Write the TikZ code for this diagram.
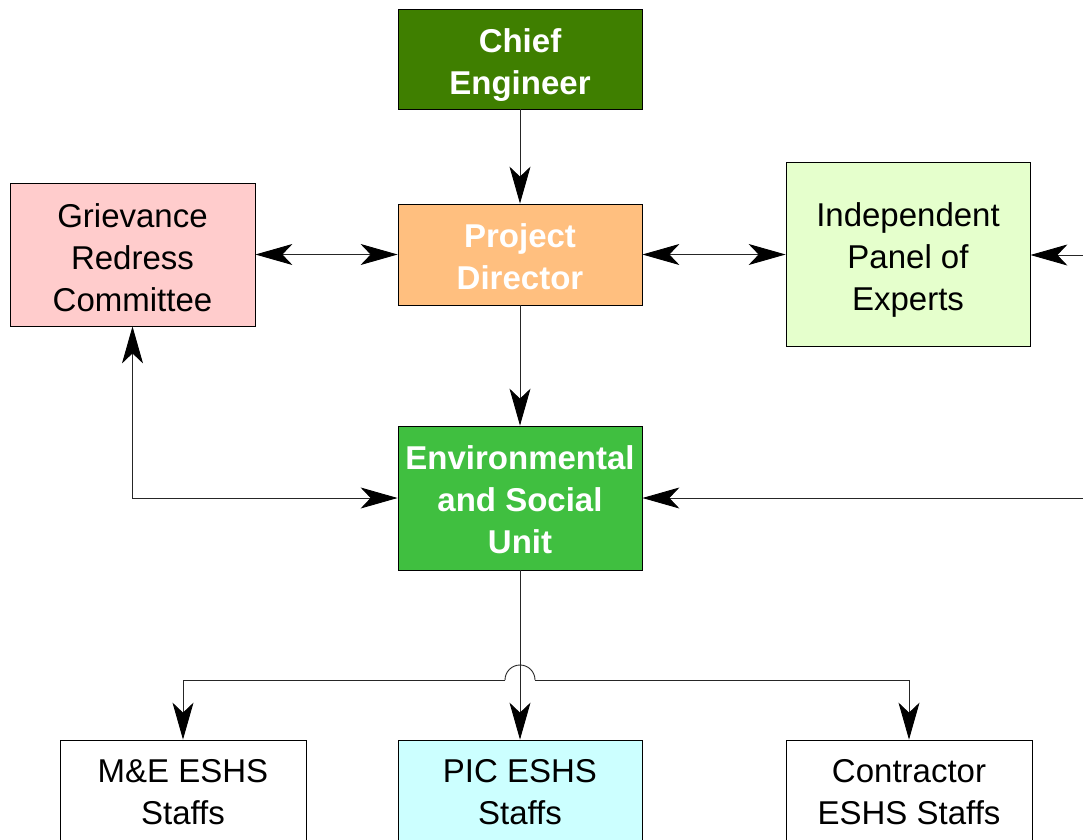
\documentclass[tikz,border=0pt]{standalone}
\usepackage{fontspec}
\setmainfont{Liberation Sans}
\usetikzlibrary{arrows.meta}
\definecolor{chiefc}{RGB}{63,127,0}
\definecolor{pdc}{RGB}{255,191,127}
\definecolor{grcc}{RGB}{255,204,204}
\definecolor{ipec}{RGB}{229,255,204}
\definecolor{esuc}{RGB}{64,191,64}
\definecolor{picc}{RGB}{204,255,255}
\newcommand{\lift}[1]{\rule{0pt}{#1pt}}
\tikzset{
  box/.style={draw=black, line width=0.8pt, align=center, inner sep=0pt,
    font=\fontsize{33}{42}\selectfont, text=black},
  boldbox/.style={box, text=white, font=\fontsize{33}{42}\selectfont\bfseries},
  conn/.style={draw=black!85, line width=0.9pt},
  tip/.style={},
  arr/.style={conn, -{Stealth[length=37pt, width=21pt, inset=10pt, fill=black, color=black]}},
  darr/.style={conn, {Stealth[length=37pt, width=21pt, inset=10pt, fill=black, color=black]}-{Stealth[length=37pt, width=21pt, inset=10pt, fill=black, color=black]}}
}
\begin{document}
\begin{tikzpicture}[x=1pt, y=1pt]
\useasboundingbox (0,0) rectangle (1083,-839);
\clip (0,0) rectangle (1083,-839);
\fill[white] (0,0) rectangle (1083,-839);

\node[boldbox, fill=chiefc, minimum width=244pt, minimum height=100pt] (chief) at (520,-59) {\lift{36}Chief\\Engineer};
\node[boldbox, fill=pdc, minimum width=244pt, minimum height=101pt] (pd) at (520,-254.5) {\lift{28}Project\\Director};
\node[box, fill=grcc, minimum width=245pt, minimum height=143pt] (grc) at (132.5,-254.5) {\lift{30}Grievance\\Redress\\Committee};
\node[box, fill=ipec, minimum width=244pt, minimum height=184pt] (ipe) at (908,-254) {\lift{36}Independent\\Panel of\\Experts};
\node[boldbox, fill=esuc, minimum width=244pt, minimum height=144pt] (esu) at (520,-498) {\lift{28}Environmental\\and Social\\Unit};
\node[box, fill=white, minimum width=246pt, minimum height=105pt] (me) at (183,-792.5) {M\&E ESHS\\Staffs};
\node[box, fill=picc, minimum width=244pt, minimum height=105pt] (pic) at (520,-792.5) {PIC ESHS\\Staffs};
\node[box, fill=white, minimum width=246pt, minimum height=105pt] (con) at (909,-792.5) {Contractor\\ESHS Staffs};

\coordinate (rtop) at (1090,-255);
\coordinate (rmid) at (1090,-498);
\coordinate (jl) at (183,-680);
\coordinate (jr) at (909,-680);
\coordinate (hl) at (505,-680);
\coordinate (hr) at (535,-680);

\draw[arr] (chief.south) -- (pd.north);
\draw[darr] (grc.east |- pd.west) -- (pd.west);
\draw[darr] (pd.east) -- (ipe.west |- pd.east);
\draw[arr] (rtop) -- (ipe.east |- rtop);
\draw[arr] (pd.south) -- (esu.north);
\draw[darr] (grc.south) |- (esu.west);
\draw[arr] (rmid) -- (esu.east);
\draw[arr] (esu.south) -- (pic.north);
\draw[arr] (hl) -- (jl) -- (me.north);
\draw[conn] (hl) arc (180:0:15) -- (hr);
\draw[arr] (hr) -- (jr) -- (con.north);
\end{tikzpicture}
\end{document}
